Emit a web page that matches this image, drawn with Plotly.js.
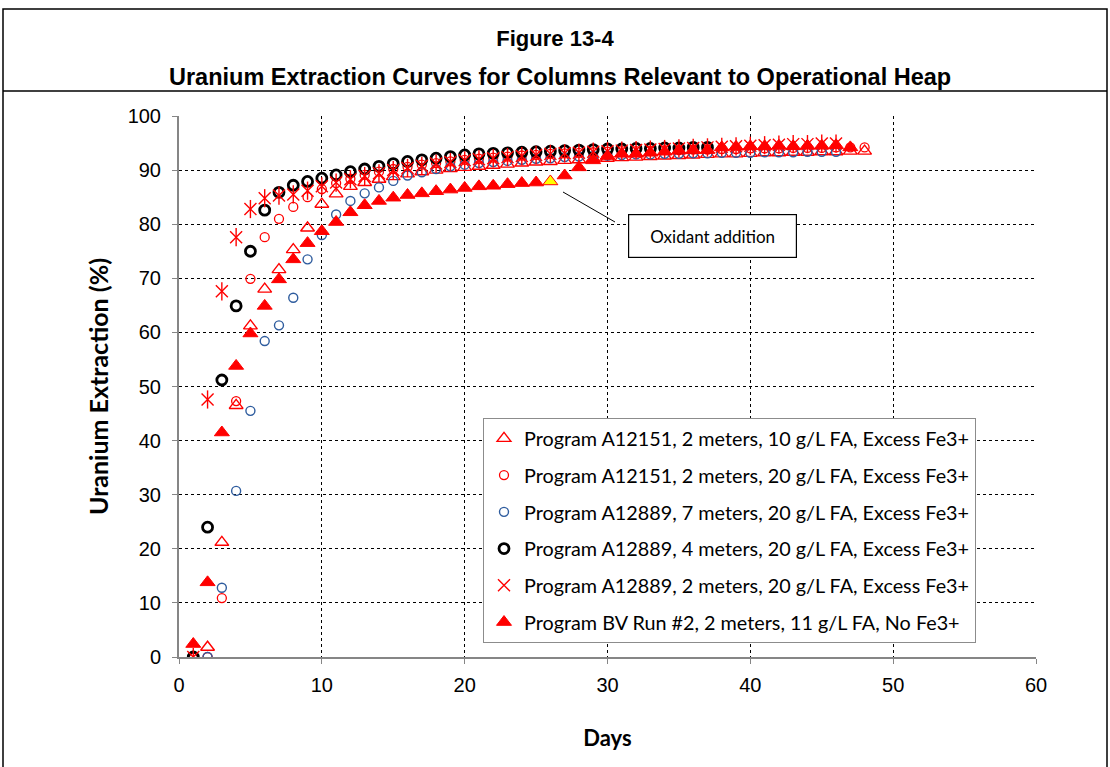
<!DOCTYPE html>
<html>
<head>
<meta charset="utf-8">
<script src="https://cdn.plot.ly/plotly-3.0.1.min.js"></script>
<style>html,body{margin:0;padding:0;background:#fff;}#chart{width:1110px;height:767px;}</style>
</head>
<body>
<div id="chart"></div>
<script>
// ---- data ----
const seriesNames = [
  "Program A12151, 2 meters, 10 g/L FA, Excess Fe3+",
  "Program A12151, 2 meters, 20 g/L FA, Excess Fe3+",
  "Program A12889, 7 meters, 20 g/L FA, Excess Fe3+",
  "Program A12889, 4 meters, 20 g/L FA, Excess Fe3+",
  "Program A12889, 2 meters, 20 g/L FA, Excess Fe3+",
  "Program BV Run #2, 2 meters, 11 g/L FA, No Fe3+"
];

const daysTriOpen = [1,2,3,4,5,6,7,8,9,10,11,12,13,14,15,16,17,18,19,20,21,22,23,24,25,26,27,28,29,30,31,32,33,34,35,36,37,38,39,40,41,42,43,44,45,46,47,48];
const valTriOpen = [0,1.8,21.2,46.5,61.2,68.0,71.6,75.3,79.3,83.7,
  85.6,87.0,87.7,88.3,88.8,89.3,89.7,90.0,90.3,90.5,
  90.7,90.9,91.1,91.3,91.5,91.6,91.8,91.9,92.1,92.2,
  92.3,92.4,92.5,92.6,92.7,92.8,92.9,93.0,93.0,93.1,
  93.2,93.2,93.3,93.3,93.4,93.4,93.5,93.5];

const daysRedCirc = [1,2,3,4,5,6,7,8,9,10,11,12,13,14,15,16,17,18,19,20,21,22,23,24,25,26,27,28,29,30,31,32,33,34,35,36,37,38,39,40,41,42,43,44,45,46,47,48];
const valRedCirc = [0,0,10.9,47.3,69.9,77.6,81.0,83.2,85.0,86.5,
  87.6,88.4,89.1,89.7,90.2,90.6,91.0,91.3,91.6,91.9,
  92.1,92.3,92.5,92.7,92.8,93.0,93.1,93.2,93.3,93.4,
  93.5,93.5,93.6,93.7,93.7,93.8,93.8,93.9,93.9,94.0,
  94.0,94.0,94.1,94.1,94.1,94.2,94.2,94.2];

const daysBlue = [1,2,3,4,5,6,7,8,9,10,11,12,13,14,15,16,17,18,19,20,21,22,23,24,25,26,27,28,29,30,31,32,33,34,35,36,37,38,39,40,41,42,43,44,45,46];
const valBlue = [0,0,12.8,30.7,45.5,58.4,61.3,66.4,73.5,78.0,
  81.8,84.3,85.7,86.8,88.0,89.0,89.6,90.2,90.7,91.0,
  91.3,91.5,91.7,91.9,92.1,92.2,92.4,92.5,92.6,92.7,
  92.8,92.9,92.9,93.0,93.0,93.1,93.1,93.2,93.2,93.2,
  93.3,93.3,93.3,93.4,93.4,93.4];

const daysBlack = [1,2,3,4,5,6,7,8,9,10,11,12,13,14,15,16,17,18,19,20,21,22,23,24,25,26,27,28,29,30,31,32,33,34,35,36,37];
const valBlack = [0,24,51.2,64.9,75,82.6,85.9,87.2,87.9,88.5,
  89.1,89.7,90.2,90.7,91.2,91.6,91.9,92.2,92.5,92.8,
  93.0,93.1,93.2,93.3,93.4,93.5,93.6,93.7,93.8,93.9,
  93.9,94.0,94.0,94.1,94.1,94.2,94.2];

const daysStar = [1,2,3,4,5,6,7,8,9,10,11,12,13,14,15,16,17,18,19,20,21,22,23,24,25,26,27,28,29,30,31,32,33,34,35,36,37,38,39,40,41,42,43,44,45,46];
const valStar = [0,47.6,67.6,77.6,82.8,84.8,85.3,85.5,86.2,87.0,
  87.7,88.3,88.9,89.4,90.0,90.4,90.8,91.2,91.5,91.8,
  92.0,92.2,92.4,92.6,92.8,93.0,93.1,93.2,93.4,93.5,
  93.6,93.7,93.8,93.9,94.0,94.1,94.2,94.3,94.4,94.5,
  94.6,94.7,94.8,94.8,94.9,94.9];

const daysBV = [1,2,3,4,5,6,7,8,9,10,11,12,13,14,15,16,17,18,19,20,21,22,23,24,25,26,27,28,29,30,31,32,33,34,35,36,37,38,39,40,41,42,43,44,45,46,47];
const valBV = [2.4,13.8,41.5,53.8,59.8,64.9,69.8,73.5,76.5,78.7,
  80.4,82.2,83.5,84.3,84.9,85.4,85.7,86.1,86.4,86.7,
  87.0,87.1,87.4,87.6,87.7,87.9,89.0,90.5,91.8,92.6,
  93.0,93.0,93.2,93.4,93.6,93.7,93.7,94.2,94.3,94.4,
  94.4,94.5,94.4,94.5,94.5,94.6,94.2];
const oxidantDay = 26;

const titleLine1 = "Figure 13-4";
const titleLine2 = "Uranium Extraction Curves for Columns Relevant to Operational Heap";
const xTitle = "Days";
const yTitle = "Uranium Extraction (%)";
const noteText = "Oxidant addition";

// ---- styling ----
const RED = "#FF0000";
const BLUE = "#2E5C9E";
const legendFont = {family: "Lato, 'Open Sans', sans-serif", size: 19.8, color: "#000"};

const bvColors = daysBV.map(d => d === oxidantDay ? "#FFFF00" : RED);

const traces = [
  {x: daysTriOpen, y: valTriOpen, name: seriesNames[0], legendgroup: "g1",
   mode: "markers", type: "scatter",
   marker: {symbol: "triangle-up-open", size: 12, color: RED, line: {color: RED, width: 1.4}}},
  {x: daysRedCirc, y: valRedCirc, name: seriesNames[1], legendgroup: "g2",
   mode: "markers", type: "scatter",
   marker: {symbol: "circle-open", size: 9, color: RED, line: {color: RED, width: 1.3}}},
  {x: daysBlue, y: valBlue, name: seriesNames[2], legendgroup: "g3",
   mode: "markers", type: "scatter",
   marker: {symbol: "circle-open", size: 9, color: BLUE, line: {color: BLUE, width: 1.4}}},
  {x: daysBlack, y: valBlack, name: seriesNames[3], legendgroup: "g4",
   mode: "markers", type: "scatter",
   marker: {symbol: "circle-open", size: 10, color: "#000", line: {color: "#000", width: 2.8}}},
  {x: daysStar, y: valStar, name: seriesNames[4], legendgroup: "g5",
   mode: "markers", type: "scatter",
   marker: {symbol: "x-thin-open", size: 12, color: RED, line: {color: RED, width: 1.4}}},
  {x: daysStar, y: valStar, name: seriesNames[4], legendgroup: "g5", showlegend: false,
   mode: "markers", type: "scatter", hoverinfo: "skip",
   marker: {symbol: "line-ns-open", size: 13, color: RED, line: {color: RED, width: 1.4}}},
  {x: daysBV, y: valBV, name: seriesNames[5], legendgroup: "g6",
   mode: "markers", type: "scatter",
   marker: {symbol: "triangle-up", size: 13, color: bvColors, line: {color: RED, width: 1}}}
];

const axisCommon = {
  showgrid: true, gridcolor: "#000", griddash: "dot", gridwidth: 1,
  showline: true, linecolor: "#868686", linewidth: 2,
  ticks: "outside", ticklen: 5, tickcolor: "#868686", tickwidth: 1,
  zeroline: false,
  tickfont: {family: "'Liberation Sans', Arial, sans-serif", size: 20, color: "#000"}
};

const layout = {
  width: 1110, height: 767,
  margin: {l: 179, r: 74, t: 116, b: 110},
  paper_bgcolor: "#fff", plot_bgcolor: "#fff",
  showlegend: true,
  title: {text: "<b>" + titleLine1 + "</b>", x: 0.5, xref: "container", xanchor: "center",
          y: 1 - 38/767, yref: "container", yanchor: "middle",
          font: {family: "'Liberation Sans', Arial, sans-serif", size: 22, color: "#000"}},
  xaxis: Object.assign({}, axisCommon, {range: [0, 60], tick0: 0, dtick: 10, ticklabelstandoff: 4,
    title: {text: "<b>" + xTitle + "</b>", standoff: 36,
            font: {family: "Lato, sans-serif", size: 22, color: "#000"}}}),
  yaxis: Object.assign({}, axisCommon, {range: [0, 100], tick0: 0, dtick: 10, ticklabelstandoff: 7,
    title: {text: "<b>" + yTitle + "</b>", standoff: 12,
            font: {family: "Lato, sans-serif", size: 25, color: "#000"}}}),
  legend: {x: (483-179)/857, y: (657-418)/541, xanchor: "left", yanchor: "top",
           bgcolor: "#fff", bordercolor: "#8c8c8c", borderwidth: 1,
           font: legendFont, traceorder: "grouped", tracegroupgap: 8},
  annotations: [
    {text: "<b>" + titleLine2 + "</b>", xref: "paper", yref: "paper",
     x: (560-179)/857, y: (657-77)/541, xanchor: "center", yanchor: "middle", showarrow: false,
     font: {family: "'Liberation Sans', Arial, sans-serif", size: 23.5, color: "#000"}},
    {text: noteText, xref: "paper", yref: "paper",
     x: (712-179)/857, y: (657-235.5)/541, xanchor: "center", yanchor: "middle", showarrow: false,
     bgcolor: "#fff", bordercolor: "#000", borderwidth: 1.2,
     width: 165, height: 40, borderpad: 1,
     font: {family: "Lato, sans-serif", size: 17, color: "#000"}}
  ],
  shapes: [
    // figure frame
    {type: "rect", xref: "paper", yref: "paper",
     x0: (3-179)/857, x1: (1107-179)/857, y0: (657-775)/541, y1: (657-9)/541,
     line: {color: "#000", width: 1.5}, fillcolor: "rgba(0,0,0,0)", layer: "below"},
    // separator under title block
    {type: "line", xref: "paper", yref: "paper",
     x0: (3-179)/857, x1: (1107-179)/857, y0: (657-91)/541, y1: (657-91)/541,
     line: {color: "#000", width: 1.5}},
    // leader line of the note
    {type: "line", xref: "paper", yref: "paper",
     x0: (563-179)/857, y0: (657-192)/541, x1: (615-179)/857, y1: (657-222)/541,
     line: {color: "#000", width: 1}}
  ]
};

Plotly.newPlot("chart", traces, layout, {displayModeBar: false, staticPlot: true});
</script>
</body>
</html>
